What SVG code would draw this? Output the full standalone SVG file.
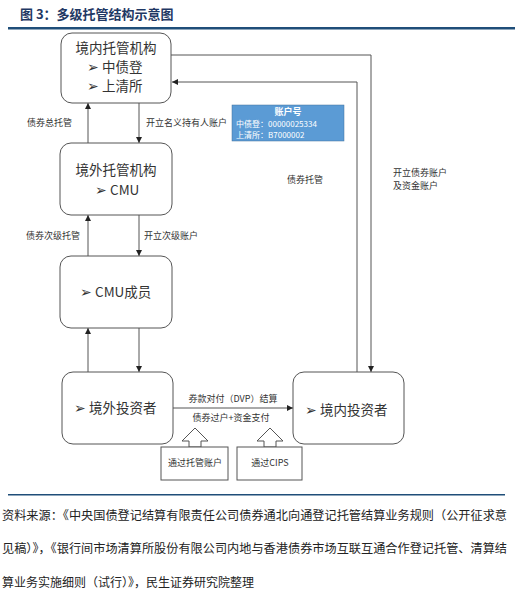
<svg xmlns="http://www.w3.org/2000/svg" width="523" height="598" viewBox="0 0 523 598">
<defs>
<marker id="ah" viewBox="0 0 10 10" refX="10" refY="5" markerWidth="6" markerHeight="6" orient="auto" markerUnits="userSpaceOnUse">
<path d="M0,0 L10,5 L0,10 z" fill="#222"/>
</marker>
<style>
text{font-family:"Noto Sans CJK SC","Liberation Sans",sans-serif;fill:#333}
.box{fill:#fff;stroke:#555;stroke-width:1}
.big{font-size:13.5px}
.sm{font-size:9px}
.ln{fill:none;stroke:#555;stroke-width:1}
.arr{marker-end:url(#ah)}
.src{font-size:12px;fill:#222}
.wt{fill:#fff;font-size:8px}
</style>
</defs>
<rect width="523" height="598" fill="#fff"/>
<g id="title">
<text x="20" y="19" style="font-size:13px;font-weight:bold;fill:#1f3864">图 3：多级托管结构示意图</text>
<rect x="8" y="27" width="507" height="2.5" fill="#1f4e79"/>
</g>
<g id="connectors">
<line class="ln arr" x1="88" y1="143" x2="88" y2="103"/>
<line class="ln arr" x1="139" y1="103" x2="139" y2="143"/>
<line class="ln arr" x1="88" y1="256" x2="88" y2="215"/>
<line class="ln arr" x1="139" y1="215" x2="139" y2="256"/>
<line class="ln arr" x1="88" y1="372" x2="88" y2="328"/>
<line class="ln arr" x1="139" y1="328" x2="139" y2="372"/>
<path class="ln arr" d="M171,55 H371 V372"/>
<path class="ln arr" d="M357,372 V82 H172"/>
<line class="ln" x1="173" y1="408" x2="293" y2="408" marker-start="url(#ah)" marker-end="url(#ah)"/>
</g>
<g id="labels">
<text class="sm" x="27" y="126">债券总托管</text>
<text class="sm" x="146" y="126">开立名义持有人账户</text>
<text class="sm" x="26" y="239">债券次级托管</text>
<text class="sm" x="144" y="239">开立次级账户</text>
<text class="sm" x="287" y="183">债券托管</text>
<text class="sm" x="393" y="176">开立债券账户</text>
<text class="sm" x="393" y="189">及资金账户</text>
<text class="sm" x="233" y="402" text-anchor="middle">券款对付（DVP）结算</text>
<text class="sm" x="231" y="421" text-anchor="middle">债券过户+资金支付</text>
</g>
<g id="n_domestic_custodian">
<rect class="box" x="61" y="33" width="110" height="70" rx="11"/>
<text class="big" x="116" y="53" text-anchor="middle">境内托管机构</text>
<text class="big" x="87" y="72">➢ 中债登</text>
<text class="big" x="87" y="91">➢ 上清所</text>
</g>
<g id="n_account">
<rect x="232" y="105" width="112" height="36" fill="#5b9bd5" stroke="#41719c" stroke-width="0.5"/>
<text class="wt" x="288" y="115" text-anchor="middle" style="font-weight:bold;font-size:9px">账户号</text>
<text class="wt" x="236" y="127">中债登：00000025334</text>
<text class="wt" x="236" y="138">上清所：B7000002</text>
</g>
<g id="n_offshore_custodian">
<rect class="box" x="60" y="143" width="112" height="72" rx="11"/>
<text class="big" x="116" y="175" text-anchor="middle">境外托管机构</text>
<text class="big" x="95" y="195">➢ CMU</text>
</g>
<g id="n_cmu_member">
<rect class="box" x="60" y="256" width="112" height="72" rx="11"/>
<text class="big" x="80" y="297">➢ CMU成员</text>
</g>
<g id="n_offshore_investor">
<rect class="box" x="62" y="372" width="111" height="72" rx="11"/>
<text class="big" x="74" y="413">➢ 境外投资者</text>
</g>
<g id="n_domestic_investor">
<rect class="box" x="293" y="372" width="111" height="72" rx="11"/>
<text class="big" x="305" y="415">➢ 境内投资者</text>
</g>
<g id="n_via_custody">
<path class="box" d="M195,428 L208,441 L201,441 L201,447 L189,447 L189,441 L182,441 Z"/>
<rect class="box" x="161" y="447" width="67" height="33"/>
<text x="195" y="466" text-anchor="middle" style="font-size:9px">通过托管账户</text>
</g>
<g id="n_via_cips">
<path class="box" d="M270,428 L283,441 L276,441 L276,447 L264,447 L264,441 L257,441 Z"/>
<rect class="box" x="237" y="447" width="65" height="33"/>
<text x="270" y="466" text-anchor="middle" style="font-size:9px">通过CIPS</text>
</g>
<g id="source">
<rect x="8" y="494" width="497" height="1.5" fill="#1f4e79"/>
<text class="src" x="2" y="520" textLength="505" lengthAdjust="spacingAndGlyphs">资料来源：《中央国债登记结算有限责任公司债券通北向通登记托管结算业务规则（公开征求意</text>
<text class="src" x="2" y="553" textLength="505" lengthAdjust="spacingAndGlyphs">见稿）》，《银行间市场清算所股份有限公司内地与香港债券市场互联互通合作登记托管、清算结</text>
<text class="src" x="2" y="587">算业务实施细则（试行）》，民生证券研究院整理</text>
</g>
</svg>
